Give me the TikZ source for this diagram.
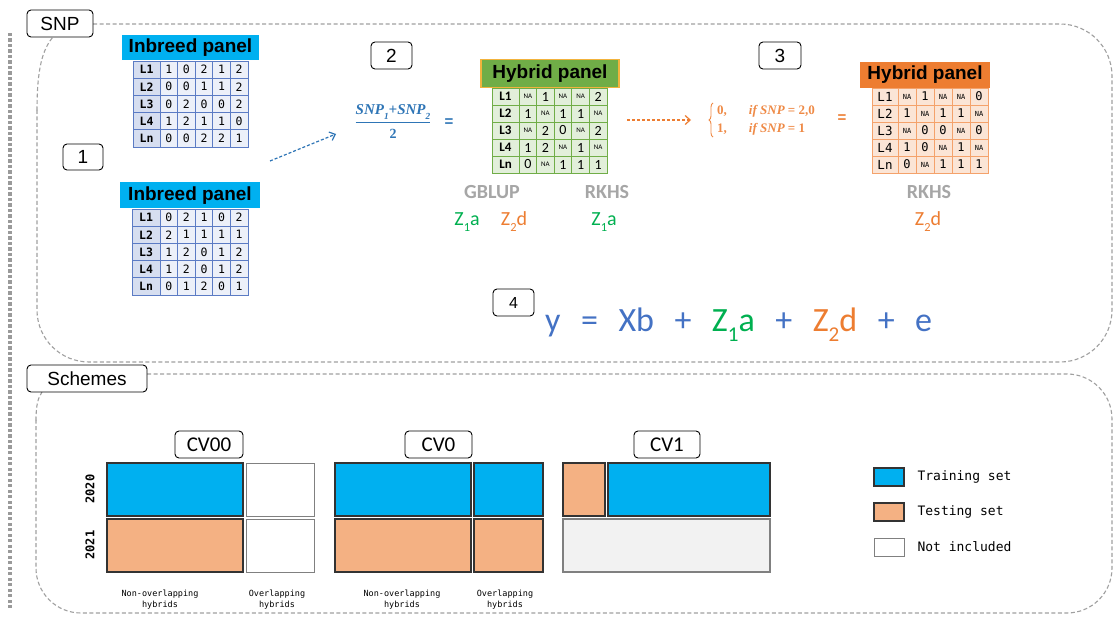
\documentclass[tikz,border=0pt]{standalone}
\usepackage{fontspec}
\setmainfont{Liberation Sans}
\newfontfamily\calfont{Carlito}
\newfontfamily\monofont{DejaVu Sans Mono}
\newfontfamily\seriffont{Liberation Serif}
\usetikzlibrary{arrows.meta,calc,decorations.pathreplacing}

\definecolor{cyanfill}{HTML}{00B0F0}
\definecolor{peach}{HTML}{F4B183}
\definecolor{nonegray}{HTML}{F2F2F2}
\definecolor{orangeA}{HTML}{ED7D31}
\definecolor{greenA}{HTML}{70AD47}
\definecolor{goldA}{HTML}{F2B33D}
\definecolor{zgreen}{HTML}{00B050}
\definecolor{eqblue}{HTML}{4472C4}
\definecolor{fracblue}{HTML}{2E75B6}
\definecolor{labgray}{HTML}{A6A6A6}
\definecolor{framegray}{HTML}{A0A0A0}
\definecolor{dotgray}{HTML}{9A9A9A}
\definecolor{ibline}{HTML}{5B7BC4}
\definecolor{iblab}{HTML}{D6DEF0}
\definecolor{ibcell}{HTML}{ECF0F9}
\definecolor{gline}{HTML}{70AD47}
\definecolor{gcell}{HTML}{E2EFDA}
\definecolor{oline}{HTML}{F4A26B}
\definecolor{ocell}{HTML}{FBE5D6}
\definecolor{gridedge}{HTML}{333333}
\definecolor{whiteedge}{HTML}{808080}

\newcommand{\NA}{{\fontsize{7}{7}\selectfont NA}}
\newcommand{\lowsub}[1]{\raisebox{-0.28em}{\fontsize{0.62em}{0.62em}\selectfont #1}}

% genotype table: prefix, x0, y0, label width, cell width, row height,
% label style, value style, rows
\newcommand{\snptable}[9]{%
  \foreach \lab/\vals [count=\ri] in {#9}{%
    \node[#7, minimum width=#4, minimum height=#6] (#1-\ri-0)
      at ({#2+#4/2},{#3+#6*(\ri-0.5)}) {\lab};
    \foreach \v [count=\ci] in \vals {%
      \node[#8, minimum width=#5, minimum height=#6] (#1-\ri-\ci)
        at ({#2+#4+#5*(\ci-0.5)},{#3+#6*(\ri-0.5)}) {\v};
    }
  }%
}

\tikzset{
  tag/.style={draw=black, line width=0.9pt, rounded corners=4pt, fill=white,
    inner sep=0pt, minimum height=27pt, font=\fontsize{19}{19}\selectfont},
  frame/.style={draw=framegray, line width=1.1pt, dash pattern=on 4pt off 2.5pt},
  cellbase/.style={draw, inner sep=0pt, outer sep=0pt, line width=0.8pt},
  iblabel/.style={cellbase, draw=ibline, fill=iblab, font=\monofont\bfseries\fontsize{11.5}{12}\selectfont},
  ibvalue/.style={cellbase, draw=ibline, fill=ibcell, font=\monofont\fontsize{11.5}{12}\selectfont},
  glabel/.style={cellbase, draw=gline, fill=gcell, font=\calfont\bfseries\fontsize{13}{13}\selectfont},
  gvalue/.style={cellbase, draw=gline, fill=gcell, font=\calfont\fontsize{14}{14}\selectfont},
  olabel/.style={cellbase, draw=oline, fill=ocell, font=\monofont\fontsize{12.5}{13}\selectfont},
  ovalue/.style={cellbase, draw=oline, fill=ocell, font=\monofont\fontsize{12}{12}\selectfont},
  header/.style={inner sep=0pt, font=\bfseries\fontsize{19}{19}\selectfont},
  method/.style={text=labgray, font=\calfont\bfseries\fontsize{20}{20}\selectfont, anchor=base},
  effect/.style={font=\calfont\fontsize{20}{20}\selectfont, anchor=base},
  flow/.style={line width=1.2pt, dash pattern=on 3pt off 2pt, -{Straight Barb[length=5pt,width=9pt]}},
  formula/.style={inner sep=0pt, font=\seriffont\bfseries\itshape\fontsize{15}{16}\selectfont},
  trainbox/.style={fill=cyanfill, draw=gridedge, line width=1.3pt},
  testbox/.style={fill=peach, draw=gridedge, line width=1.3pt},
  outbox/.style={fill=white, draw=whiteedge, line width=1pt},
  nonebox/.style={fill=nonegray, draw=whiteedge, line width=1.2pt},
  legendtext/.style={anchor=west, font=\monofont\fontsize{13}{13}\selectfont},
  axistext/.style={font=\monofont\bfseries\fontsize{12}{12}\selectfont, rotate=90},
  grouptext/.style={align=center, font=\monofont\fontsize{8.5}{11}\selectfont},
}

\begin{document}
\begin{tikzpicture}[x=1pt, y=-1pt]
\useasboundingbox (0,0) rectangle (1114,617);
\fill[white] (0,0) rectangle (1114,617);

% ---------- frames ----------
% column of square dots along the left margin
\foreach \yy in {33,38.5,...,608}
  \fill[dotgray] (8,\yy) rectangle (12,{\yy+3.4});

\coordinate (snpc) at (60,23.5);
\coordinate (schc) at (87,378.5);
\coordinate (snpfoot) at (53,37);
\coordinate (schfoot) at (42,392);
\draw[frame, rounded corners=52pt] (93,24) -- (1112,24) -- (1112,362) -- (37,362) -- (37,110);
\draw[frame] (37,110.5) .. controls (37,70) and (42,50) .. (snpfoot);
\draw[frame, rounded corners=45pt] (147,374) -- (1112,374) -- (1112,613) -- (36,613) -- (36,420);
\draw[frame] (36,420.5) .. controls (36,405) and (38,398) .. (schfoot);

\node[tag, minimum width=66] (snp) at (snpc) {SNP};
\node[tag, minimum width=120] (schemes) at (schc) {Schemes};

% ---------- step 1: inbred panels ----------
\node[tag, minimum width=40, minimum height=26] (n1) at (83,157) {1};

\node[header, fill=cyanfill, minimum width=137, minimum height=25] (ibh1) at (190.5,47.5) {Inbreed panel};
\snptable{iba}{133}{61}{27}{17.6}{17.2}{iblabel}{ibvalue}%
  {L1/{1,0,2,1,2},L2/{0,0,1,1,2},L3/{0,2,0,0,2},L4/{1,2,1,1,0},Ln/{0,0,2,2,1}}

\node[header, fill=cyanfill, minimum width=140, minimum height=26] (ibh2) at (190,195.5) {Inbreed panel};
\snptable{ibb}{132}{209}{28}{17.6}{17.2}{iblabel}{ibvalue}%
  {L1/{0,2,1,0,2},L2/{2,1,1,1,1},L3/{1,2,0,1,2},L4/{1,2,0,1,2},Ln/{0,1,2,0,1}}

% ---------- step 2: additive coding ----------
\node[tag, minimum width=41] (n2) at (391.5,55.5) {2};
\coordinate (a1s) at (270,161);
\coordinate (a1e) at (336,134);
\draw[flow, draw=fracblue] (a1s) -- (a1e);

\node[formula, text=fracblue] (fnum) at (393,112) {SNP\lowsub{1}+SNP\lowsub{2}};
\node[formula, text=fracblue, font=\seriffont\bfseries\fontsize{14}{15}\selectfont] (fden) at (393,134) {2};
\draw[fracblue, line width=1pt] ($(fnum.west)+(0,11)$) -- ($(fnum.east)+(0,11)$);
\node[text=fracblue, font=\bfseries\fontsize{15}{15}\selectfont] (eq1) at (449,123) {=};

\node[header, fill=greenA, draw=goldA, line width=1.3pt, minimum width=138, minimum height=28] (gh) at (550,73.5) {Hybrid panel};
\snptable{hyg}{492}{88}{27}{17.6}{17}{glabel}{gvalue}%
  {L1/{\NA,1,\NA,\NA,2},L2/{1,\NA,1,1,\NA},L3/{\NA,2,0,\NA,2},L4/{1,2,\NA,1,\NA},Ln/{0,\NA,1,1,1}}

\node[method] (gblup) at (492,199) {GBLUP};
\node[method] (rkhs1) at (607,199) {RKHS};
\node[effect, text=zgreen] (za1) at (467,226) {Z\lowsub{1}a};
\node[effect, text=orangeA] (zd1) at (514,226) {Z\lowsub{2}d};
\node[effect, text=zgreen] (za2) at (604,226) {Z\lowsub{1}a};

% ---------- step 3: dominance coding ----------
\node[tag, minimum width=42] (n3) at (780,55.5) {3};
\coordinate (a2s) at (627,120);
\coordinate (a2e) at (691,120);
\draw[flow, draw=orangeA] (a2s) -- (a2e);

\coordinate (brlow) at (713,137);
\coordinate (brtop) at (713,103);
\draw[orangeA!90, line width=0.9pt, decorate, decoration={brace, amplitude=4pt}] (brlow) -- (brtop);
\node[inner sep=0pt, anchor=west, text=orangeA!90, font=\seriffont\bfseries\fontsize{13}{18}\selectfont] (cases) at (717,120)
  {\begin{tabular}{@{}l@{\hspace{22pt}}l@{}}0, & \itshape if SNP \upshape= 2,0\\ 1, & \itshape if SNP \upshape= 1\end{tabular}};
\node[text=orangeA, font=\bfseries\fontsize{15}{15}\selectfont] (eq2) at (842,119) {=};

\node[header, fill=orangeA, minimum width=130, minimum height=26] (oh) at (925,75) {Hybrid panel};
\snptable{hyo}{872}{88}{26}{18}{17}{olabel}{ovalue}%
  {L1/{\NA,1,\NA,\NA,0},L2/{1,\NA,1,1,\NA},L3/{\NA,0,0,\NA,0},L4/{1,0,\NA,1,\NA},Ln/{0,\NA,1,1,1}}

\node[method] (rkhs2) at (929,199) {RKHS};
\node[effect, text=orangeA] (zd2) at (928,226) {Z\lowsub{2}d};

% ---------- step 4: model ----------
\node[tag, minimum width=41, font=\fontsize{16}{16}\selectfont] (n4) at (513.5,302.5) {4};
\node[anchor=base west, inner sep=0pt, font=\calfont\fontsize{34}{34}\selectfont] (model) at (545,332)
  {\textcolor{eqblue}{y\hspace{20.5pt}=\hspace{20.5pt}Xb\hspace{20.5pt}+\hspace{20.5pt}}%
   \textcolor{zgreen}{Z\lowsub{1}a}%
   \textcolor{eqblue}{\hspace{20.5pt}+\hspace{20.5pt}}%
   \textcolor{orangeA}{Z\lowsub{2}d}%
   \textcolor{eqblue}{\hspace{20.5pt}+\hspace{20.5pt}e}};

% ---------- validation schemes ----------
\node[tag, minimum width=68, font=\calfont\fontsize{21}{21}\selectfont] (cv00) at (209,444.5) {CV00};
\node[tag, minimum width=67, font=\calfont\fontsize{21}{21}\selectfont] (cv0) at (438.5,444.5) {CV0};
\node[tag, minimum width=66, font=\calfont\fontsize{21}{21}\selectfont] (cv1) at (667,444.5) {CV1};

\node[axistext] (y20) at (90,489) {2020};
\node[axistext] (y21) at (90,545) {2021};

% CV00
\draw[trainbox] (107,463) rectangle (243,516);
\draw[outbox]   (246,463) rectangle (314,516);
\draw[testbox]  (107,519) rectangle (243,572);
\draw[outbox]   (246,519) rectangle (314,572);
% CV0
\draw[trainbox] (335,463) rectangle (471,516);
\draw[trainbox] (474,463) rectangle (543,516);
\draw[testbox]  (335,519) rectangle (471,572);
\draw[testbox]  (474,519) rectangle (543,572);
% CV1
\draw[testbox]  (563,463) rectangle (605,516);
\draw[trainbox] (608,463) rectangle (770,516);
\draw[nonebox]  (563,519) rectangle (770,572);

\node[grouptext] (g1) at (160,600) {Non-overlapping\\hybrids};
\node[grouptext] (g2) at (277,600) {Overlapping\\hybrids};
\node[grouptext] (g3) at (402,600) {Non-overlapping\\hybrids};
\node[grouptext] (g4) at (505,600) {Overlapping\\hybrids};

% legend
\draw[trainbox, line width=1.1pt] (874,468) rectangle (904,486);
\draw[testbox, line width=1.1pt]  (874,503) rectangle (904,521);
\draw[outbox]   (874,538) rectangle (904,556);
\node[legendtext] (l1) at (914,477) {Training set};
\node[legendtext] (l2) at (914,512) {Testing set};
\node[legendtext] (l3) at (914,547) {Not included};
\end{tikzpicture}
\end{document}
